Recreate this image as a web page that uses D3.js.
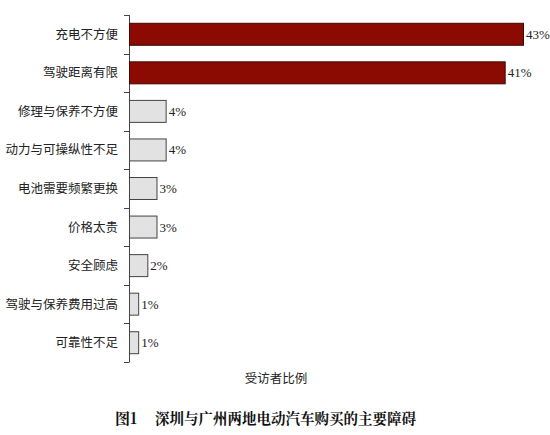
<!DOCTYPE html>
<html>
<head>
<meta charset="utf-8">
<script src="https://cdn.jsdelivr.net/npm/d3@7"></script>
<style>
  body { margin: 0; background: #fff; }
  svg { display: block; }
</style>
</head>
<body>
<div id="chart"></div>
<script>
// DATA
// ------------------------------------------------------------------

var categories = ["充电不方便", "驾驶距离有限", "修理与保养不方便", "动力与可操纵性不足",
                  "电池需要频繁更换", "价格太贵", "安全顾虑", "驾驶与保养费用过高", "可靠性不足"];
var values = [43, 41, 4, 4, 3, 3, 2, 1, 1];
var highlight = [true, true, false, false, false, false, false, false, false];

var axisTitle = "受访者比例";
var figLabel = "图1";
var figTitle = "深圳与广州两地电动汽车购买的主要障碍";

// CANVAS
// ------------------------------------------------------------------

var width = 550,
    height = 435;

var svg = d3.select("#chart")
    .append("svg")
    .attr("width", width)
    .attr("height", height);

var plotLeft = 129,
    plotTop = 15,
    plotBottom = 362;

var xScale = d3.scaleLinear()
    .domain([0, 43])
    .range([plotLeft, plotLeft + 394]);

var yScale = d3.scaleBand()
    .domain(categories)
    .range([plotTop, plotBottom])
    .paddingInner(0.43)
    .paddingOuter(0.215);

// AXIS
// ------------------------------------------------------------------

// tick marks sit between the bands
var tickYs = categories.map(function(c) { return yScale(c) - yScale.step() * yScale.paddingInner() / 2; });
tickYs.push(plotBottom);

svg.append("line")
    .attr("x1", plotLeft + 0.5).attr("x2", plotLeft + 0.5)
    .attr("y1", plotTop).attr("y2", plotBottom)
    .attr("stroke", "#444").attr("stroke-width", 1);

svg.selectAll(".tick")
    .data(tickYs)
    .enter().append("line")
    .attr("x1", plotLeft - 5).attr("x2", plotLeft + 0.5)
    .attr("y1", function(d) { return Math.round(d) + 0.5; })
    .attr("y2", function(d) { return Math.round(d) + 0.5; })
    .attr("stroke", "#444");

svg.selectAll(".cat")
    .data(categories)
    .enter().append("text")
    .attr("x", 118)
    .attr("y", function(d) { return yScale(d) + yScale.bandwidth() / 2; })
    .attr("dy", "0.36em")
    .attr("text-anchor", "end")
    .style("font-family", "'Noto Sans CJK SC', sans-serif")
    .style("font-size", "12.5px")
    .style("fill", "#222")
    .text(function(d) { return d; });

// BARS
// ------------------------------------------------------------------

svg.selectAll(".bar")
    .data(values)
    .enter().append("rect")
    .attr("x", plotLeft + 0.5)
    .attr("y", function(d, i) { return yScale(categories[i]); })
    .attr("width", function(d) { return xScale(d) - plotLeft; })
    .attr("height", yScale.bandwidth())
    .attr("fill", function(d, i) { return highlight[i] ? "#8b0a02" : "#e2e2e2"; })
    .attr("stroke", function(d, i) { return highlight[i] ? "#3a0a05" : "#444"; })
    .attr("stroke-width", 1);

svg.selectAll(".val")
    .data(values)
    .enter().append("text")
    .attr("x", function(d) { return xScale(d) + 3; })
    .attr("y", function(d, i) { return yScale(categories[i]) + yScale.bandwidth() / 2; })
    .attr("dy", "0.35em")
    .style("font-family", "'Liberation Serif', 'DejaVu Serif', serif")
    .style("font-size", "13px")
    .style("fill", "#222")
    .text(function(d) { return d + "%"; });

// TITLES
// ------------------------------------------------------------------

svg.append("text")
    .attr("x", 276)
    .attr("y", 383)
    .attr("text-anchor", "middle")
    .style("font-family", "'Noto Sans CJK SC', sans-serif")
    .style("font-size", "12.5px")
    .style("fill", "#222")
    .text(axisTitle);

svg.append("text")
    .attr("x", 115)
    .attr("y", 424)
    .style("font-family", "'Noto Serif CJK SC', 'Noto Sans CJK SC', serif")
    .style("font-size", "15px")
    .style("font-weight", "bold")
    .style("fill", "#111")
    .text(figLabel);

svg.append("text")
    .attr("x", 155)
    .attr("y", 424)
    .style("font-family", "'Noto Serif CJK SC', 'Noto Sans CJK SC', serif")
    .style("font-size", "14.5px")
    .style("font-weight", "bold")
    .style("fill", "#111")
    .text(figTitle);
</script>
</body>
</html>
